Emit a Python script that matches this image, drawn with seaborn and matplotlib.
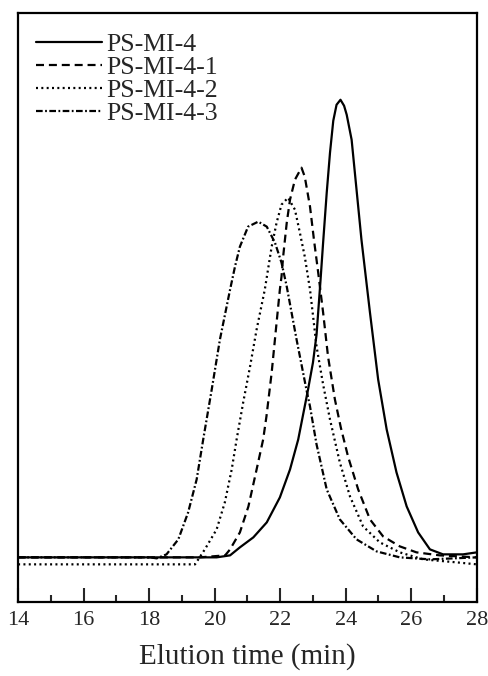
import pandas as pd
import matplotlib.pyplot as plt
import seaborn as sns

x_mi4 = [14, 18.03, 20.06, 20.47, 20.77, 21.18, 21.59, 21.99, 22.30, 22.55, 22.85,
         23.0, 23.11, 23.23, 23.31, 23.42, 23.52, 23.62, 23.72, 23.84, 23.95, 24.03,
         24.18, 24.33, 24.48, 24.74, 24.99, 25.25, 25.55, 25.86, 26.21, 26.57, 26.97,
         27.58, 28]
y_mi4 = [45, 45, 45, 47, 55, 65, 80, 105, 133, 163, 213,
         240, 268, 322, 360, 410, 450, 482, 498, 503, 497, 488,
         463, 413, 363, 290, 223, 173, 130, 96, 70, 53, 48,
         48, 50]

x_mi41 = [14, 19.55, 20.32, 20.47, 20.77, 21.03, 21.28, 21.48, 21.58, 21.74, 21.89,
          21.99, 22.04, 22.09, 22.20, 22.30, 22.45, 22.65, 22.75, 22.91, 23.03, 23.16,
          23.31, 23.46, 23.67, 23.85, 24.07, 24.38, 24.74, 25.14, 25.65, 26.16, 26.87, 28]
y_mi41 = [45, 45, 47, 53, 70, 96, 133, 163, 186, 230, 280,
          313, 326, 346, 380, 403, 423, 435, 426, 396, 363, 330,
          290, 246, 203, 175, 146, 113, 83, 66, 56, 50, 47, 45]

x_mi42 = [14, 19.40, 19.70, 20.06, 20.31, 20.52, 20.67, 20.87, 21.08, 21.28, 21.53,
          21.74, 21.89, 22.04, 22.24, 22.45, 22.60, 22.75, 22.91, 23.11, 23.31, 23.52,
          23.82, 24.13, 24.53, 25.04, 25.65, 26.36, 27.38, 28]
y_mi42 = [38, 38, 53, 73, 100, 133, 163, 200, 236, 273, 313,
          356, 380, 398, 405, 393, 370, 346, 313, 256, 218, 183,
          140, 106, 76, 60, 50, 43, 40, 38]

x_mi43 = [14, 18.03, 18.23, 18.53, 18.89, 19.19, 19.45, 19.65, 19.91, 20.16, 20.47,
          20.62, 20.77, 21.02, 21.33, 21.59, 21.84, 22.04, 22.20, 22.50, 22.80, 22.91,
          23.11, 23.42, 23.82, 24.33, 24.94, 25.65, 26.57, 28]
y_mi43 = [45, 45, 44, 48, 63, 90, 123, 163, 213, 263, 313,
          336, 356, 376, 381, 376, 360, 340, 316, 263, 213, 196,
          158, 113, 83, 63, 51, 45, 43, 45]

series = [
    ("PS-MI-4", x_mi4, y_mi4, "-"),
    ("PS-MI-4-1", x_mi41, y_mi41, (0, (3.6, 2.2))),
    ("PS-MI-4-2", x_mi42, y_mi42, (0, (0.9, 1.5))),
    ("PS-MI-4-3", x_mi43, y_mi43, (0, (3.0, 1.1, 0.8, 1.1))),
]

sns.set_style("ticks")
plt.rcParams['font.family'] = ['Liberation Serif', 'DejaVu Serif']

fig = plt.figure(figsize=(4.89, 6.76), dpi=100)
ax = fig.add_axes([0.037, 0.109, 0.938, 0.872])

for nombre, xs, ys, estilo in series:
    df = pd.DataFrame({"t": xs, "s": ys})
    sns.lineplot(data=df, x="t", y="s", ax=ax, color="black", linewidth=1.6,
                 linestyle=estilo, sort=False, estimator=None, label=nombre)

ax.set_xlim(14, 28)
ax.set_ylim(0, 590)
ax.set_xticks([14, 16, 18, 20, 22, 24, 26, 28])
ax.set_xticks([15, 17, 19, 21, 23, 25, 27], minor=True)
ax.set_yticks([])
ax.tick_params(axis="x", which="major", direction="in", length=10, width=1.5,
               labelsize=16, pad=6)
ax.tick_params(axis="x", which="minor", direction="in", length=5, width=1.5)
for s in ax.spines.values():
    s.set_linewidth(1.6)
    s.set_color("black")
ax.set_xlabel("Elution time (min)", fontsize=21, labelpad=10)
ax.set_ylabel("")

ax.legend(loc="upper left", bbox_to_anchor=(0.04, 0.965), frameon=False,
          fontsize=18.5, handlelength=2.55, handletextpad=0.15, labelspacing=0.0,
          borderpad=0, borderaxespad=0)

fig.savefig("out.png", dpi=100)
